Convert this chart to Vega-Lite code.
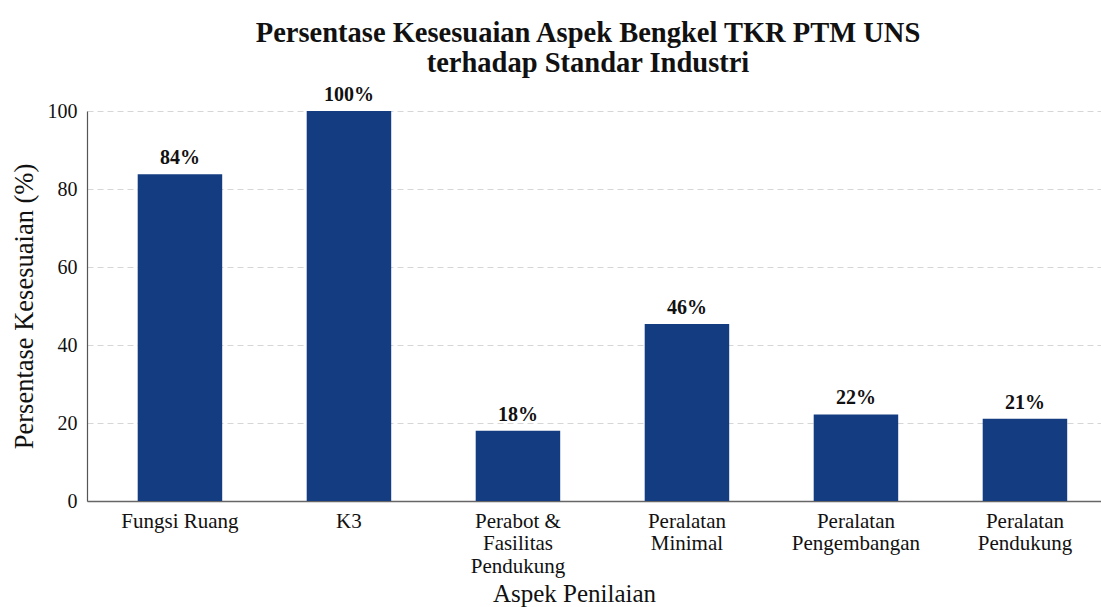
{
  "$schema": "https://vega.github.io/schema/vega-lite/v6.json",
  "autosize": {"type": "none"},
  "padding": {"left": 87, "top": 111, "right": 0, "bottom": 106},
  "width": 1014,
  "height": 390,
  "background": "white",
  "title": {
    "text": ["Persentase Kesesuaian Aspek Bengkel TKR PTM UNS", "terhadap Standar Industri"],
    "font": "Liberation Serif",
    "fontSize": 28.5,
    "fontWeight": "bold",
    "color": "#111111",
    "anchor": "middle",
    "dx": -6,
    "offset": 8,
    "lineHeight": 30
  },
  "data": {
    "values": [
      {"aspek": "Fungsi Ruang", "persen": 83.8, "label": "84%"},
      {"aspek": "K3", "persen": 100, "label": "100%"},
      {"aspek": "Perabot &\nFasilitas\nPendukung", "persen": 18.0, "label": "18%"},
      {"aspek": "Peralatan\nMinimal", "persen": 45.4, "label": "46%"},
      {"aspek": "Peralatan\nPengembangan", "persen": 22.2, "label": "22%"},
      {"aspek": "Peralatan\nPendukung", "persen": 21.1, "label": "21%"}
    ]
  },
  "encoding": {
    "x": {
      "field": "aspek",
      "type": "nominal",
      "sort": null,
      "scale": {"paddingInner": 0.5, "paddingOuter": 0.25, "align": 0.6},
      "axis": {
        "title": "Aspek Penilaian",
        "labelAngle": 0,
        "labelExpr": "split(datum.label, '\\n')",
        "labelFont": "Liberation Serif",
        "labelFontSize": 21,
        "labelColor": "#111111",
        "labelLineHeight": 22.5,
        "labelPadding": 9,
        "ticks": false,
        "domainColor": "#666666",
        "domainWidth": 1.5,
        "titleFont": "Liberation Serif",
        "titleFontSize": 25,
        "titleFontWeight": "normal",
        "titleColor": "#111111",
        "titlePadding": 5,
        "titleX": 487
      }
    },
    "y": {
      "field": "persen",
      "type": "quantitative",
      "scale": {"domain": [0, 100]},
      "axis": {
        "title": "Persentase Kesesuaian (%)",
        "values": [0, 20, 40, 60, 80, 100],
        "labelFont": "Liberation Serif",
        "labelFontSize": 20,
        "labelColor": "#111111",
        "labelPadding": 10,
        "ticks": false,
        "domainColor": "#555555",
        "domainWidth": 1.2,
        "grid": true,
        "gridColor": "#d6d6d6",
        "gridDash": [6, 4],
        "gridWidth": 1,
        "titleFont": "Liberation Serif",
        "titleFontSize": 26.5,
        "titleFontWeight": "normal",
        "titleColor": "#111111",
        "titlePadding": 9
      }
    }
  },
  "layer": [
    {"mark": {"type": "bar", "color": "#143c80"}},
    {
      "mark": {
        "type": "text",
        "baseline": "bottom",
        "dy": -6,
        "font": "Liberation Serif",
        "fontSize": 20,
        "fontWeight": "bold",
        "color": "#111111"
      },
      "encoding": {"text": {"field": "label"}}
    }
  ],
  "config": {
    "view": {"stroke": null},
    "font": "Liberation Serif",
    "axis": {"labelFont": "Liberation Serif", "titleFont": "Liberation Serif"},
    "text": {"font": "Liberation Serif"}
  }
}
